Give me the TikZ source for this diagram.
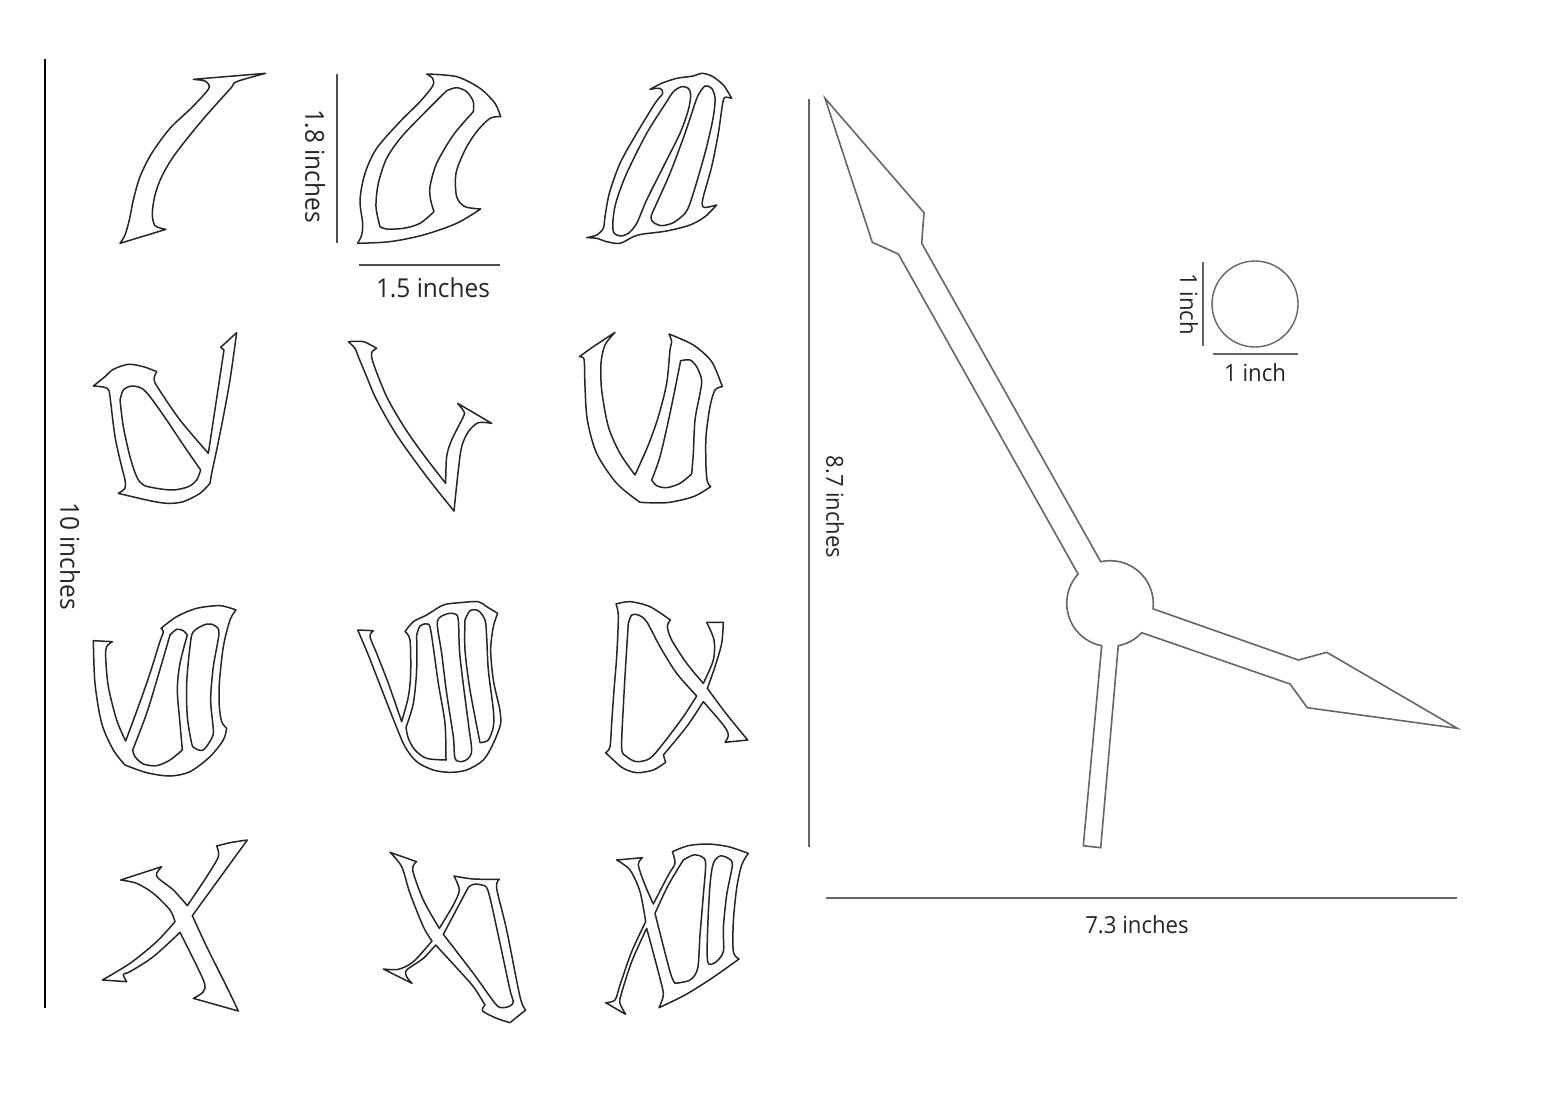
\documentclass[tikz,border=0pt]{standalone}
\usepackage{fontspec}
\setmainfont[FakeStretch=0.94]{Open Sans}
\tikzset{
  zm/.style={shift={(#1)},scale=0.33333},
  cv/.style={smooth,tension=0.5},
  glyph/.style={draw=black!85,line width=0.75pt,line join=round,fill=white},
  hole/.style={draw=black!85,line width=0.75pt,line join=round},
  hand/.style={draw=black!60,line width=0.8pt,line join=miter,fill=white},
  rulerb/.style={draw=black,line width=0.6pt},
  rulerd/.style={draw=black!70,line width=0.6pt},
  rulerg/.style={draw=black!60,line width=0.65pt},
  lab/.style={text=black!85,inner sep=0pt,font=\fontsize{#1}{#1}\selectfont},
}
\begin{document}
\begin{tikzpicture}[x=0.5pt,y=-0.5pt]
\useasboundingbox (0,0) rectangle (1541,1113);
\fill[white] (0,0) rectangle (1541,1113);

% rulers
\draw[rulerb] (45,59) -- (45,1008);
\draw[rulerd] (337,74) -- (337,243);
\draw[rulerd] (359,265) -- (500,265);
\draw[rulerg] (809,99) -- (809,847);
\draw[rulerg] (826,898) -- (1457,898);
\draw[rulerg] (1203,262) -- (1203,346);
\draw[rulerg] (1213,354) -- (1298,354);

% labels
\node[lab=13,rotate=-90] (t10) at (70,556) {10 inches};
\node[lab=13,rotate=-90] (t18) at (315,166) {1.8 inches};
\node[lab=13] (t15) at (433,288) {1.5 inches};
\node[lab=11.7,rotate=-90] (t87) at (835,507) {8.7 inches};
\node[lab=11.8] (t73) at (1137,925) {7.3 inches};
\node[lab=11.8,rotate=-90] (t1a) at (1189,304) {1 inch};
\node[lab=11.8] (t1b) at (1255,373) {1 inch};

% circle
\node[draw=black!60,line width=0.7pt,circle,minimum size=43pt,inner sep=0pt] (disc) at (1255,304) {};

% clock hands
\coordinate (hub) at (1110,603.3);
\draw[hand] (825,98.3) -- (924,212.7) -- (921.7,243.3) -- (1100.7,561.7)
  arc[start angle=102.6,end angle=-6.6,radius=21.6pt]
  -- (1298.3,660) -- (1326.7,652.3) -- (1457.3,728.3) -- (1307.3,707.7) -- (1290,684) -- (1141.7,632.7)
  arc[start angle=317.2,end angle=281,radius=21.6pt]
  -- (1100.7,847.7) -- (1083.3,845.7) -- (1101.7,645.7)
  arc[start angle=259,end angle=137.5,radius=21.6pt]
  -- (898.3,254) -- (872.3,242.3) -- cycle;

% I and II
\begin{scope}[zm={90,60}]
\draw[glyph] (310,58) -- (527,40)
  -- plot[cv] coordinates {(527,40) (440,65) (422,85) (350,165) (300,225) (250,290) (215,350) (195,405) (187,460) (195,497) (228,508)}
  -- (90,550)
  -- plot[cv] coordinates {(90,550) (105,525) (118,480) (130,420) (150,350) (185,280) (240,205) (300,148) (348,97) (358,78) (345,63) (310,58)} -- cycle;
\draw[glyph] plot[cv] coordinates {(1010,42) (1100,50) (1170,85) (1215,130) (1232,170)}
  -- plot[cv] coordinates {(1232,170) (1200,175) (1160,215) (1125,270) (1098,340) (1100,410) (1125,440) (1172,447)}
  -- plot[cv] coordinates {(1172,447) (1100,490) (1000,525) (900,545) (803,550)}
  -- plot[cv] coordinates {(803,550) (815,525) (818,490) (810,420) (825,340) (860,265) (930,185) (990,125) (1028,78) (1028,55) (1010,42)} -- cycle;
\draw[hole] plot[cv] coordinates {(1070,92) (1100,83) (1130,95) (1150,125) (1150,155)}
  -- plot[cv] coordinates {(1150,155) (1090,225) (1040,310) (1020,380) (1022,420) (1032,455)}
  -- plot[cv] coordinates {(1032,455) (990,490) (940,505) (890,507) (870,500)}
  -- plot[cv] coordinates {(870,500) (858,440) (865,370) (890,295) (935,230) (1000,162) (1070,92)} -- cycle;
\end{scope}

% III
\begin{scope}[zm={570,60}]
\draw[glyph] plot[cv] coordinates {(240,88) (275,70) (320,55) (370,48) (395,40) (425,48) (460,75) (485,115)}
  -- plot[cv] coordinates {(485,115) (465,112) (458,130) (445,220) (425,320) (400,410) (397,438) (410,442) (440,435)}
  -- plot[cv] coordinates {(440,435) (405,470) (360,495) (290,513) (220,522) (190,530) (150,550) (110,545) (80,535) (50,533)}
  -- plot[cv] coordinates {(50,533) (80,525) (100,505) (105,470) (118,400) (150,310) (200,220) (255,130) (278,100) (270,85) (240,88)} -- cycle;
\draw[hole] plot[smooth cycle,tension=0.5] coordinates {(310,95) (335,80) (355,85) (362,105) (355,150) (330,220) (280,320) (230,420) (200,490) (175,520) (150,528) (130,515) (130,470) (140,420) (170,340) (230,220) (290,125)};
\draw[hole] plot[smooth cycle,tension=0.5] coordinates {(385,105) (405,78) (425,85) (435,115) (430,170) (410,260) (385,350) (360,430) (345,460) (310,488) (275,497) (250,487) (243,470) (260,430) (300,340) (345,220) (375,130)};
\end{scope}

% IV and V
\begin{scope}[zm={80,320}]
\draw[glyph] plot[cv] coordinates {(40,198) (75,170) (100,148) (145,133) (190,140) (230,155)}
  -- plot[cv] coordinates {(230,155) (222,178) (235,205) (300,300) (385,400)}
  -- (432,90)
  -- (422,82) -- (470,38)
  -- plot[cv] coordinates {(470,38) (450,180) (430,290) (410,390) (395,460) (390,490)}
  -- plot[cv] coordinates {(390,490) (360,520) (310,545) (260,550) (200,540) (115,520)}
  -- plot[cv] coordinates {(115,520) (135,505) (135,480) (125,440) (105,350) (90,230) (85,208) (70,201) (40,198)} -- cycle;
\draw[hole] plot[cv] coordinates {(120,240) (130,210) (155,198) (185,205) (210,230) (260,300) (310,375) (362,450)}
  -- plot[cv] coordinates {(362,450) (350,480) (325,500) (280,510) (230,505) (190,495) (170,470) (150,410) (130,320) (120,240)} -- cycle;
\draw[glyph] plot[cv] coordinates {(805,65) (850,65) (890,85)}
  -- plot[cv] coordinates {(890,85) (875,98) (880,130) (920,230) (975,325) (1035,410) (1097,490)}
  -- plot[cv] coordinates {(1097,490) (1100,410) (1115,360) (1150,290) (1152,275) (1133,250)}
  -- (1235,310)
  -- plot[cv] coordinates {(1235,310) (1195,308) (1165,335) (1145,380) (1135,450) (1122,573)}
  -- plot[cv] coordinates {(1122,573) (1040,470) (950,345) (890,240) (860,170) (835,110) (825,85) (805,65)} -- cycle;
\end{scope}

% VI
\begin{scope}[zm={560,320}]
\draw[glyph] plot[cv] coordinates {(58,110) (100,80) (165,37)}
  -- plot[cv] coordinates {(165,37) (135,75) (123,130) (125,210) (145,320) (180,400) (225,465)}
  -- plot[cv] coordinates {(225,465) (265,375) (295,290) (320,190) (330,90) (335,65) (327,42)}
  -- plot[cv] coordinates {(327,42) (400,75) (455,125) (487,200)}
  -- plot[cv] coordinates {(487,200) (465,210) (450,260) (438,350) (438,440) (442,485) (452,500)}
  -- plot[cv] coordinates {(452,500) (400,530) (320,548) (240,547)}
  -- plot[cv] coordinates {(240,547) (170,490) (110,400) (82,300) (75,200) (73,125) (68,112) (58,110)} -- cycle;
\draw[hole] plot[cv] coordinates {(362,122) (390,120) (410,140) (425,180) (420,220) (405,300) (400,400) (395,462)}
  -- plot[cv] coordinates {(395,462) (360,490) (320,503) (290,497) (275,480)}
  -- plot[cv] coordinates {(275,480) (300,410) (330,280) (362,122)} -- cycle;
\end{scope}

% VII and VIII
\begin{scope}[zm={80,590}]
\draw[glyph] (40,152) -- (97,155)
  -- plot[cv] coordinates {(97,155) (80,170) (77,200) (85,290) (110,390) (137,453)}
  -- plot[cv] coordinates {(137,453) (175,350) (210,250) (238,160) (250,125) (243,115)}
  -- plot[cv] coordinates {(243,115) (290,80) (350,55) (420,47) (468,60)}
  -- plot[cv] coordinates {(468,60) (450,90) (430,170) (418,280) (418,350) (425,395) (440,415)}
  -- plot[cv] coordinates {(440,415) (430,450) (390,500) (330,545) (270,558) (200,548) (135,525)}
  -- plot[cv] coordinates {(135,525) (100,480) (65,400) (45,280) (40,152)} -- cycle;
\draw[hole] plot[cv] coordinates {(270,135) (290,118) (310,122) (322,135)}
  -- plot[cv] coordinates {(322,135) (300,220) (292,300) (300,400) (307,480)}
  -- plot[cv] coordinates {(307,480) (270,510) (230,527) (190,522) (165,500) (158,480)}
  -- plot[cv] coordinates {(158,480) (200,370) (238,245) (270,135)} -- cycle;
\draw[hole] plot[smooth cycle,tension=0.5] coordinates {(340,125) (380,102) (405,107) (417,130) (400,230) (392,330) (400,420) (395,445) (370,480) (345,475) (335,460) (322,380) (320,280) (330,170)};
\draw[glyph] (833,120) -- (880,122)
  -- plot[cv] coordinates {(880,122) (870,140) (890,190) (925,280) (965,395)}
  -- plot[cv] coordinates {(965,395) (985,320) (992,250) (990,150) (975,125)}
  -- plot[cv] coordinates {(975,125) (1000,95) (1040,75) (1090,45) (1140,38) (1195,35) (1220,50) (1253,70)}
  -- plot[cv] coordinates {(1253,70) (1240,110) (1232,180) (1240,270) (1258,350)}
  -- plot[cv] coordinates {(1258,350) (1262,400) (1240,460) (1210,510) (1160,540) (1110,547) (1060,540) (1010,515) (975,470) (945,400) (900,285) (865,195) (833,120)} -- cycle;
\draw[hole] plot[cv] coordinates {(1010,135) (1020,108) (1040,102) (1052,120) (1075,280) (1095,400) (1098,510)}
  -- plot[cv] coordinates {(1098,510) (1040,505) (1005,480) (985,445) (978,412)}
  -- plot[cv] coordinates {(978,412) (1000,340) (1010,240) (1010,135)} -- cycle;
\draw[hole] plot[smooth cycle,tension=0.5] coordinates {(1072,95) (1100,72) (1125,72) (1135,90) (1140,200) (1165,400) (1175,480) (1165,505) (1145,515) (1125,505) (1120,440) (1100,310) (1085,190)};
\draw[hole] plot[cv] coordinates {(1155,90) (1170,62) (1195,62) (1215,90) (1220,140) (1225,240) (1240,360) (1240,410) (1225,450) (1200,458)}
  -- plot[cv] coordinates {(1200,458) (1170,300) (1155,180) (1155,90)} -- cycle;
\end{scope}

% IX
\begin{scope}[zm={590,590}]
\draw[glyph] plot[cv] coordinates {(78,42) (120,35) (180,50) (241,90)}
  -- plot[cv] coordinates {(241,90) (232,110) (245,150) (290,220) (340,280)}
  -- plot[cv] coordinates {(340,280) (370,210) (372,150) (350,97)}
  -- (400,97)
  -- plot[cv] coordinates {(400,97) (395,160) (375,230) (352,295)}
  -- plot[cv] coordinates {(352,295) (400,360) (440,410) (473,450)}
  -- (405,457)
  -- plot[cv] coordinates {(405,457) (415,435) (400,405) (340,335)}
  -- plot[cv] coordinates {(340,335) (290,410) (220,495)}
  -- (227,517)
  -- plot[cv] coordinates {(227,517) (190,540) (140,548) (100,535) (70,510) (47,488)}
  -- plot[cv] coordinates {(47,488) (60,470) (65,400) (72,300) (80,200) (85,80) (78,42)} -- cycle;
\draw[hole] plot[cv] coordinates {(115,100) (125,75) (145,75) (170,95) (210,170) (260,250) (320,318)}
  -- plot[cv] coordinates {(320,318) (280,380) (220,460) (180,505) (140,515) (110,500) (95,475) (100,350) (107,225) (115,100)} -- cycle;
\end{scope}

% X and XI
\begin{scope}[zm={90,830}]
\draw[glyph] (92,150) -- (215,110)
  -- plot[cv] coordinates {(215,110) (200,130) (205,145) (250,180) (292,227)}
  -- plot[cv] coordinates {(292,227) (350,140) (385,80) (380,48)}
  -- plot[cv] coordinates {(380,48) (420,38) (472,30)}
  -- (307,257)
  -- plot[cv] coordinates {(307,257) (350,350) (410,470) (445,543)}
  -- (310,505)
  -- plot[cv] coordinates {(310,505) (340,485) (340,450) (270,307)}
  -- plot[cv] coordinates {(270,307) (190,380) (120,425) (100,433) (110,455)}
  -- (37,450)
  -- plot[cv] coordinates {(37,450) (120,400) (200,335) (255,275)}
  -- plot[cv] coordinates {(255,275) (240,240) (190,190) (140,160) (92,150)} -- cycle;
\draw[glyph] (900,67) -- (980,95)
  -- plot[cv] coordinates {(980,95) (968,120) (1000,210) (1048,295)}
  -- plot[cv] coordinates {(1048,295) (1090,225) (1108,180) (1092,138)}
  -- plot[cv] coordinates {(1092,138) (1150,147) (1228,148)}
  -- plot[cv] coordinates {(1228,148) (1220,175) (1250,300) (1290,500) (1307,540)}
  -- (1260,578)
  -- plot[cv] coordinates {(1260,578) (1220,565) (1178,543) (1185,525)}
  -- plot[cv] coordinates {(1185,525) (1150,470) (1095,408) (1037,345)}
  -- plot[cv] coordinates {(1037,345) (1000,385) (950,420) (950,440) (966,460)}
  -- (880,417)
  -- plot[cv] coordinates {(880,417) (925,418) (970,395) (1026,333)}
  -- plot[cv] coordinates {(1026,333) (1000,290) (960,190) (935,110) (900,67)} -- cycle;
\draw[hole] plot[cv] coordinates {(1135,172) (1150,163) (1175,165) (1195,185) (1230,340) (1260,480) (1270,515) (1260,528) (1235,533) (1215,520) (1150,430) (1060,313)}
  -- (1135,172) -- cycle;
\end{scope}

% XII
\begin{scope}[zm={595,835}]
\draw[glyph] (65,75) -- (142,68)
  -- plot[cv] coordinates {(142,68) (130,90) (150,150) (175,207)}
  -- plot[cv] coordinates {(175,207) (220,120) (240,85) (232,50)}
  -- plot[cv] coordinates {(232,50) (280,32) (340,27) (400,35) (460,55)}
  -- plot[cv] coordinates {(460,55) (440,90) (425,160) (415,260) (415,350) (432,372)}
  -- plot[cv] coordinates {(432,372) (350,430) (270,480) (192,518)}
  -- plot[cv] coordinates {(192,518) (205,480) (195,430) (155,280)}
  -- plot[cv] coordinates {(155,280) (110,380) (78,480) (75,505) (92,538)}
  -- (32,503)
  -- plot[cv] coordinates {(32,503) (60,495) (75,450) (110,350) (152,260)}
  -- plot[cv] coordinates {(152,260) (135,170) (105,105) (65,75)} -- cycle;
\draw[hole] plot[cv] coordinates {(265,75) (295,60) (320,65) (332,85) (325,180) (315,300) (308,400) (285,435) (240,445)}
  -- plot[cv] coordinates {(240,445) (225,410) (180,235)}
  -- plot[cv] coordinates {(180,235) (220,150) (265,75)} -- cycle;
\draw[hole] plot[smooth cycle,tension=0.5] coordinates {(355,85) (375,63) (400,70) (412,90) (395,180) (385,280) (385,350) (360,383) (338,380) (338,280) (345,150)};
\end{scope}
\end{tikzpicture}
\end{document}
